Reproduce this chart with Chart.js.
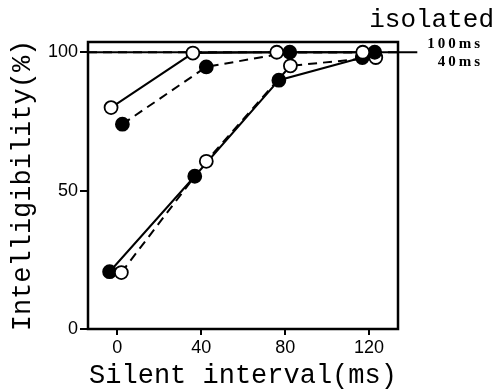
<!DOCTYPE html>
<html>
<head>
<meta charset="utf-8">
<script src="https://cdn.jsdelivr.net/npm/chart.js@4/dist/chart.umd.min.js"></script>
<style>
  html, body { margin: 0; padding: 0; background: #fff; }
</style>
</head>
<body>
<canvas id="grafico" width="498" height="390"></canvas>
<script>
// ticks
var xTicks = [0, 40, 80, 120];
var yTicks = [0, 50, 100];

// upper pair: open circles / solid line, filled circles / dashed line
var openSolidUpX = [-3, 36, 76, 117];
var openSolidUpY = [80, 99.7, 100, 100];
var filledDashedUpX = [2.4, 42.4, 82.2, 122.7];
var filledDashedUpY = [74, 94.7, 100, 100];

// lower pair: filled circles / solid line, open circles / dashed line
var filledSolidLowX = [-3.7, 36.9, 77, 116.8];
var filledSolidLowY = [20.7, 55.2, 89.9, 98.1];
var openDashedLowX = [1.9, 42.4, 82.5, 123.2];
var openDashedLowY = [20.4, 60.6, 95.1, 98.1];

// isolated reference levels
var isolatedLabels = ['100ms', '40ms'];
var isolatedValues = [100, 100];
var isolatedSpan = [-14, 143];

function pts(xs, ys) {
    return xs.map(function (x, i) { return { x: x, y: ys[i] }; });
}

function serie(xs, ys, filled, dashed) {
    return {
        data: pts(xs, ys),
        borderColor: '#000',
        borderWidth: 2,
        borderDash: dashed ? [9, 6] : [],
        pointRadius: 6.5,
        pointBorderWidth: 1.8,
        pointBorderColor: '#000',
        pointBackgroundColor: filled ? '#000' : '#fff',
        showLine: true,
        tension: 0
    };
}

var monoFont = { family: '"Liberation Mono", monospace', size: 27 };
var tickFont = { family: '"Liberation Sans", Arial, sans-serif', size: 18 };

var marco = {
    id: 'marco',
    beforeDatasetsDraw: function (chart) {
        var a = chart.chartArea, c = chart.ctx;
        c.save();
        c.strokeStyle = '#000';
        c.lineWidth = 2.5;
        c.strokeRect(a.left, a.top, a.right - a.left, a.bottom - a.top);
        c.restore();
    },
    afterDraw: function (chart) {
        var c = chart.ctx;
        c.save();
        c.fillStyle = '#000';
        c.font = '26px "Liberation Mono", monospace';
        c.textAlign = 'right';
        c.textBaseline = 'alphabetic';
        c.fillText('isolated', 494, 27);
        c.font = 'bold 15px "Liberation Serif", serif';
        c.textBaseline = 'middle';
        c.letterSpacing = '3px';
        c.fillText(isolatedLabels[0], 483, 44);
        c.fillText(isolatedLabels[1], 483, 62);
        c.restore();
    }
};

var datasets = [
    serie(openSolidUpX, openSolidUpY, false, false),
    serie(filledDashedUpX, filledDashedUpY, true, true),
    serie(openDashedLowX, openDashedLowY, false, true),
    serie(filledSolidLowX, filledSolidLowY, true, false),
    {
        data: pts(isolatedSpan, [isolatedValues[0], isolatedValues[0]]),
        borderColor: '#000', borderWidth: 2, pointRadius: 0,
        showLine: true, clip: false
    },
    {
        data: pts([isolatedSpan[0], 134], [isolatedValues[1], isolatedValues[1]]),
        borderColor: '#000', borderWidth: 2, borderDash: [9, 6], pointRadius: 0,
        showLine: true
    }
];

var ctx = document.getElementById('grafico').getContext('2d');
var grafico = new Chart(ctx, {
    type: 'scatter',
    data: { datasets: datasets },
    options: {
        responsive: false,
        animation: false,
        devicePixelRatio: 1,
        layout: { padding: { top: 42, right: 100, left: 0, bottom: 0 } },
        plugins: { legend: { display: false }, tooltip: { enabled: false } },
        scales: {
            x: {
                type: 'linear', min: -14, max: 133.8,
                afterBuildTicks: function (s) { s.ticks = xTicks.map(function (v) { return { value: v }; }); },
                afterFit: function (s) { s.height = 61; },
                ticks: { font: tickFont, color: '#000', padding: 2, maxRotation: 0 },
                grid: { drawOnChartArea: false, tickLength: 6, color: '#000', lineWidth: 2 },
                border: { display: false },
                title: { display: true, text: 'Silent interval(ms)', font: monoFont, color: '#000', padding: { top: 0, bottom: -2 } }
            },
            y: {
                min: 0, max: 103.7,
                afterBuildTicks: function (s) { s.ticks = yTicks.map(function (v) { return { value: v }; }); },
                afterFit: function (s) { s.width = 88; },
                ticks: { font: tickFont, color: '#000', padding: 2 },
                grid: { drawOnChartArea: false, tickLength: 8, color: '#000', lineWidth: 2 },
                border: { display: false },
                title: { display: true, text: 'Intelligibility(%)', font: monoFont, color: '#000', padding: { top: 7, bottom: 0 } }
            }
        }
    },
    plugins: [marco]
});
</script>
</body>
</html>
